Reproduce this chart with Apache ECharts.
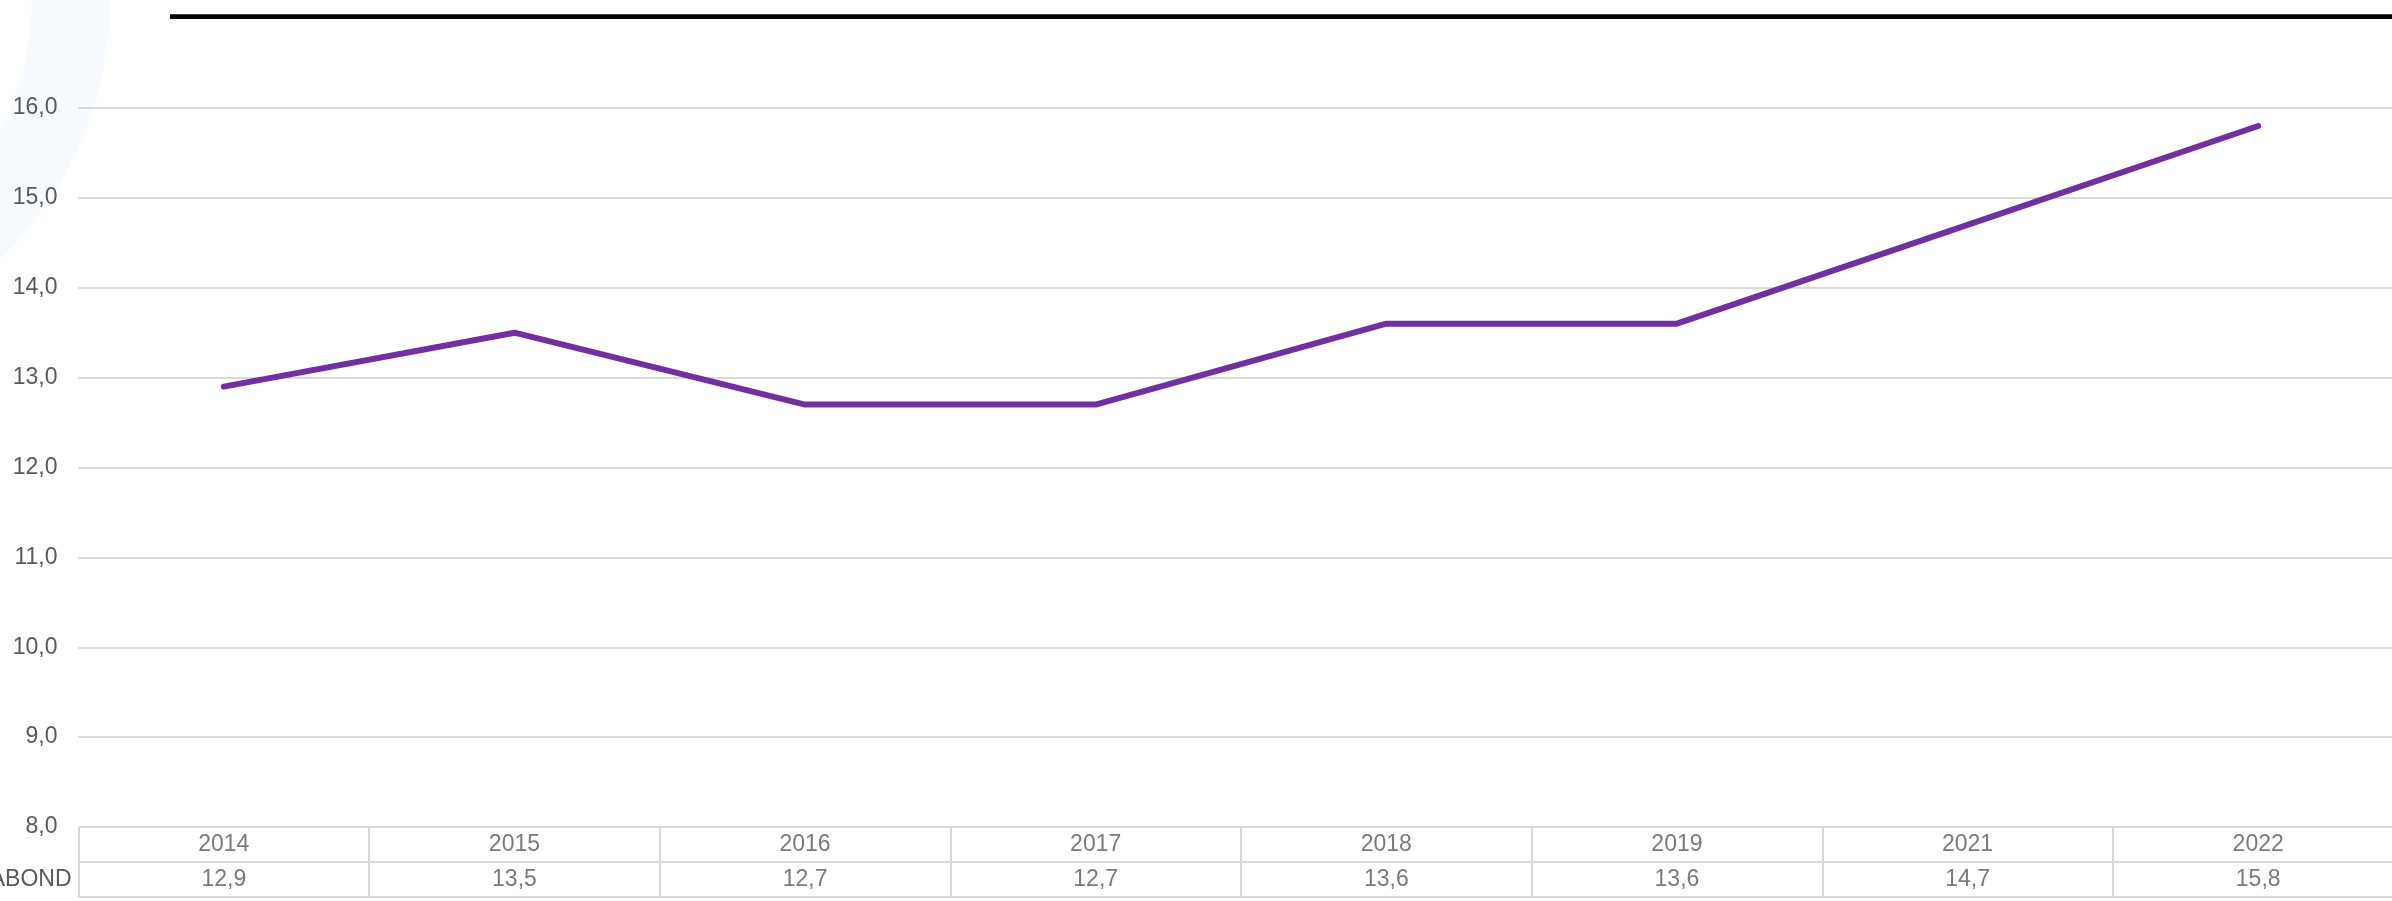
<!DOCTYPE html>
<html>
<head>
<meta charset="utf-8">
<script src="https://cdn.jsdelivr.net/npm/echarts@6/dist/echarts.min.js"></script>
<style>
html,body{margin:0;padding:0;background:#fff;}
#c{width:2392px;height:901px;}
</style>
</head>
<body>
<div id="c"></div>
<script>
const categories = ['2014','2015','2016','2017','2018','2019','2021','2022'];
const values = [12.9, 13.5, 12.7, 12.7, 13.6, 13.6, 14.7, 15.8];
const rowLabels = ['', 'ABOND'];
const yMin = 8, yMax = 16, yStep = 1;

const fmt = v => v.toFixed(1).replace('.', ',');
const FONT = '"Liberation Sans", Arial, sans-serif';
const TXT = '#595959';
const GRIDC = '#D9D9D9';
const FS = 23;

const chart = echarts.init(document.getElementById('c'));
chart.setOption({
  animation: false,
  backgroundColor: '#ffffff',
  textStyle: { fontFamily: FONT },
  graphic: [
    { type: 'ring', silent: true, z: -10,
      shape: { cx: -250, cy: 0, r: 360, r0: 282 },
      style: { fill: 'rgba(222,236,250,0.25)' } },
    { type: 'line', silent: true,
      shape: { x1: 170, y1: 16.7, x2: 2392, y2: 16.7 },
      style: { stroke: '#000', lineWidth: 4.7 } }
  ],
  grid: [
    { left: 78.5, top: 108, width: 2325, height: 719, containLabel: false, outerBoundsMode: 'none' },
    { left: 78.5, top: 827, width: 2325, height: 70, containLabel: false, outerBoundsMode: 'none' }
  ],
  xAxis: [
    { type: 'category', gridIndex: 0, data: categories, boundaryGap: true,
      axisLine: { show: false }, axisTick: { show: false }, axisLabel: { show: false },
      splitLine: { show: false } },
    { type: 'category', gridIndex: 1, data: categories, boundaryGap: true,
      axisLine: { show: false }, axisTick: { show: false }, axisLabel: { show: false },
      splitLine: { show: true, interval: 0, lineStyle: { color: GRIDC, width: 2 } } }
  ],
  yAxis: [
    { type: 'value', gridIndex: 0, min: yMin, max: yMax, interval: yStep,
      axisLine: { show: false }, axisTick: { show: false },
      axisLabel: { formatter: v => fmt(v), color: TXT, fontSize: FS, fontFamily: FONT, margin: 21 },
      splitLine: { lineStyle: { color: GRIDC, width: 2 } } },
    { type: 'category', gridIndex: 1, data: rowLabels, inverse: true, boundaryGap: true,
      axisLine: { show: false }, axisTick: { show: false },
      axisLabel: { color: TXT, fontSize: FS, fontFamily: FONT, margin: 7 },
      splitLine: { show: true, interval: 0, lineStyle: { color: GRIDC, width: 2 } } }
  ],
  series: [
    { type: 'line', xAxisIndex: 0, yAxisIndex: 0, data: values,
      symbol: 'none', smooth: false,
      lineStyle: { color: '#7030A0', width: 6, cap: 'round', join: 'round' } },
    { type: 'scatter', xAxisIndex: 1, yAxisIndex: 1,
      data: categories.map((c, i) => [i, 0, c]),
      symbolSize: 1, itemStyle: { color: 'rgba(0,0,0,0)' },
      label: { show: true, position: 'inside', formatter: p => p.data[2],
               color: TXT, fontSize: FS, fontFamily: FONT } },
    { type: 'scatter', xAxisIndex: 1, yAxisIndex: 1,
      data: values.map((v, i) => [i, 1, v]),
      symbolSize: 1, itemStyle: { color: 'rgba(0,0,0,0)' },
      label: { show: true, position: 'inside', formatter: p => fmt(p.data[2]),
               color: TXT, fontSize: FS, fontFamily: FONT } }
  ]
});
</script>
</body>
</html>
